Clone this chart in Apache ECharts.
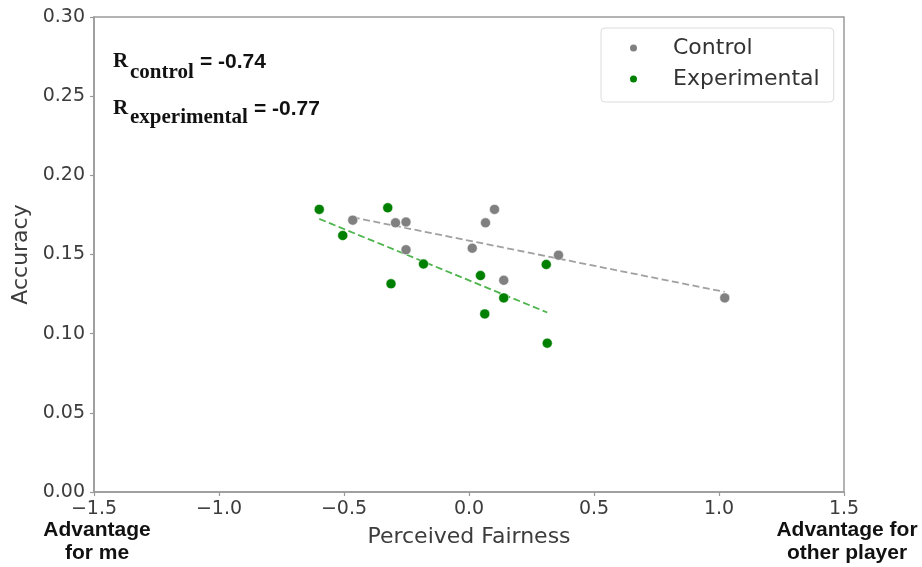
<!DOCTYPE html>
<html>
<head>
<meta charset="utf-8">
<script src="https://cdn.jsdelivr.net/npm/echarts@6/dist/echarts.min.js"></script>
<style>
  html, body { margin: 0; padding: 0; background: #fff; }
  #chart { width: 922px; height: 567px; }
</style>
</head>
<body>
<div id="chart"></div>
<script>
// Perceived fairness vs. accuracy, per participant, for the two groups
const controlX = [-0.465, -0.294, -0.252, -0.252, 0.013, 0.066, 0.102, 0.139, 0.358, 1.023];
const controlY = [0.1717, 0.1700, 0.1705, 0.1530, 0.1540, 0.1700, 0.1785, 0.1337, 0.1496, 0.1226];
const experimentalX = [-0.599, -0.325, -0.505, -0.182, -0.312, 0.046, 0.139, 0.063, 0.309, 0.313];
const experimentalY = [0.1785, 0.1795, 0.1620, 0.1440, 0.1315, 0.1367, 0.1226, 0.1125, 0.1437, 0.0940];

const seriesNames = ['Control', 'Experimental'];
const rControl = '-0.74';
const rExperimental = '-0.77';

const xTicks = { min: -1.5, max: 1.5, step: 0.5 };
const yTicks = { min: 0, max: 0.30, step: 0.05 };

const GRAY = '#808080';
const GREEN = '#008000';

function pairs(xs, ys) { return xs.map((x, i) => [x, ys[i]]); }

// least-squares fit, drawn across the observed x range
function fitLine(xs, ys) {
  const n = xs.length;
  const mx = xs.reduce((a, b) => a + b, 0) / n;
  const my = ys.reduce((a, b) => a + b, 0) / n;
  let sxy = 0, sxx = 0;
  for (let i = 0; i < n; i++) { sxy += (xs[i] - mx) * (ys[i] - my); sxx += (xs[i] - mx) ** 2; }
  const b = sxy / sxx, a = my - b * mx;
  const x0 = Math.min(...xs), x1 = Math.max(...xs);
  return [[x0, a + b * x0], [x1, a + b * x1]];
}

const tickFont = { fontFamily: 'DejaVu Sans', fontSize: 19, color: '#3c3c3c' };
const boldSans = { fontFamily: 'Liberation Sans', fontWeight: 'bold', fill: '#111' };
const boldSerif = { fontFamily: 'Liberation Serif', fontWeight: 'bold', fontSize: 21, fill: '#111' };

const chart = echarts.init(document.getElementById('chart'), null, { renderer: 'canvas' });

chart.setOption({
  animation: false,
  backgroundColor: '#fff',
  grid: {
    left: 94, right: 78, top: 17, bottom: 75,
    show: true, borderColor: '#9a9a9a', borderWidth: 1.5, backgroundColor: 'transparent'
  },
  xAxis: {
    type: 'value',
    min: xTicks.min, max: xTicks.max, interval: xTicks.step,
    name: 'Perceived Fairness',
    nameLocation: 'middle', nameGap: 34,
    nameTextStyle: { fontFamily: 'DejaVu Sans', fontSize: 22, color: '#3c3c3c' },
    axisLine: { show: true, onZero: false, lineStyle: { color: '#9a9a9a', width: 1.5 } },
    axisTick: { show: true, inside: false, length: 4, lineStyle: { color: '#9a9a9a', width: 1.2 } },
    axisLabel: Object.assign({ margin: 8, formatter: v => (v < 0 ? '\u2212' + Math.abs(v).toFixed(1) : v.toFixed(1)) }, tickFont),
    splitLine: { show: false }
  },
  yAxis: {
    type: 'value',
    min: yTicks.min, max: yTicks.max, interval: yTicks.step,
    name: 'Accuracy',
    nameLocation: 'middle', nameGap: 59,
    nameTextStyle: { fontFamily: 'DejaVu Sans', fontSize: 22, color: '#3c3c3c' },
    axisLine: { show: true, onZero: false, lineStyle: { color: '#9a9a9a', width: 1.5 } },
    axisTick: { show: true, inside: false, length: 4, lineStyle: { color: '#9a9a9a', width: 1.2 } },
    axisLabel: Object.assign({ margin: 9, formatter: v => v.toFixed(2) }, tickFont),
    splitLine: { show: false }
  },
  legend: {
    data: seriesNames,
    orient: 'vertical',
    left: 601, top: 28,
    padding: [9, 14, 12, 27],
    itemWidth: 9, itemHeight: 9, itemGap: 9,
    icon: 'circle',
    backgroundColor: '#fff',
    borderColor: '#dcdcdc', borderWidth: 1, borderRadius: 4,
    itemStyle: { opacity: 1 },
    textStyle: { fontFamily: 'DejaVu Sans', fontSize: 22, color: '#333', lineHeight: 22, padding: [0, 0, 0, 30] }
  },
  series: [
    {
      name: 'Control-fit', type: 'line', data: fitLine(controlX, controlY),
      symbol: 'none', silent: true, z: 1,
      lineStyle: { color: 'rgba(128,128,128,0.75)', width: 1.8, type: [7, 3.5] }
    },
    {
      name: 'Experimental-fit', type: 'line', data: fitLine(experimentalX, experimentalY),
      symbol: 'none', silent: true, z: 1,
      lineStyle: { color: 'rgba(0,150,0,0.7)', width: 1.8, type: [7, 3.5] }
    },
    {
      name: seriesNames[0], type: 'scatter', data: pairs(controlX, controlY),
      symbol: 'circle', symbolSize: 10, z: 3,
      itemStyle: { color: GRAY, opacity: 1, borderColor: '#fff', borderWidth: 0.5 }
    },
    {
      name: seriesNames[1], type: 'scatter', data: pairs(experimentalX, experimentalY),
      symbol: 'circle', symbolSize: 10, z: 3,
      itemStyle: { color: GREEN, opacity: 1, borderColor: '#fff', borderWidth: 0.5 }
    }
  ],
  graphic: [
    // correlation annotations
    { type: 'text', x: 113, y: 51, style: Object.assign({ text: 'R' }, boldSerif) },
    { type: 'text', x: 130, y: 62, style: Object.assign({ text: 'control' }, boldSerif) },
    { type: 'text', x: 200, y: 52, style: Object.assign({ text: '= ' + rControl, fontSize: 21 }, boldSans) },
    { type: 'text', x: 113, y: 98, style: Object.assign({ text: 'R' }, boldSerif) },
    { type: 'text', x: 130, y: 107, style: Object.assign({ text: 'experimental' }, boldSerif) },
    { type: 'text', x: 254, y: 99, style: Object.assign({ text: '= ' + rExperimental, fontSize: 21 }, boldSans) },
    // scale end captions
    { type: 'text', x: 97, y: 519, style: Object.assign({ text: 'Advantage\nfor me', align: 'center', verticalAlign: 'top', fontSize: 21, lineHeight: 23 }, boldSans) },
    { type: 'text', x: 847, y: 519, style: Object.assign({ text: 'Advantage for\nother player', align: 'center', verticalAlign: 'top', fontSize: 21, lineHeight: 23 }, boldSans) }
  ]
});
</script>
</body>
</html>
